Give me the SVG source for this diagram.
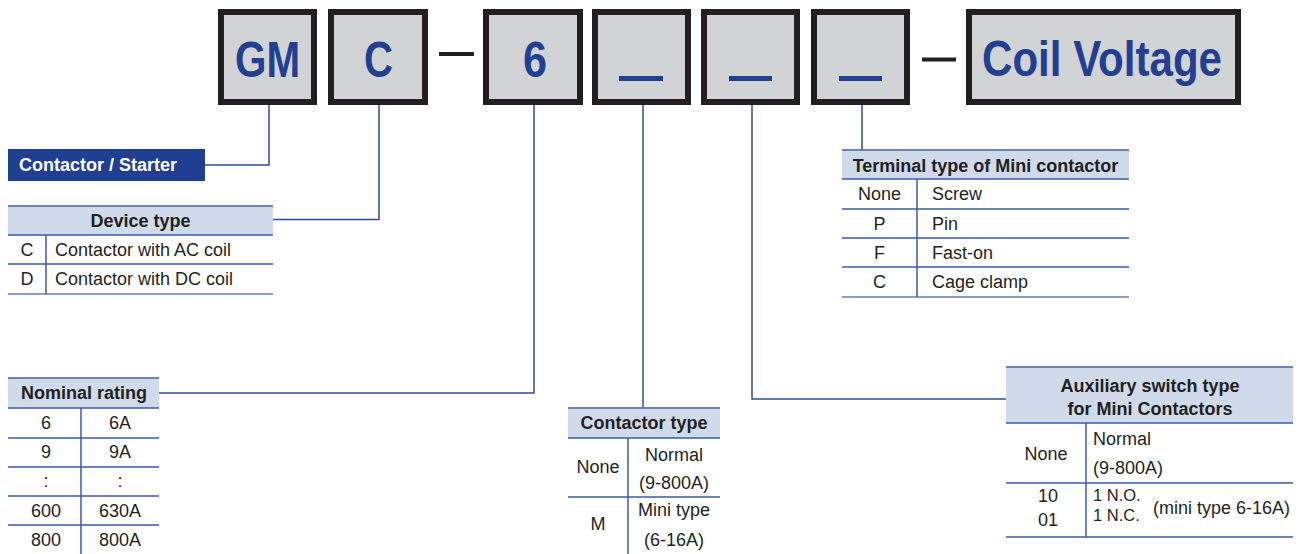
<svg xmlns="http://www.w3.org/2000/svg" width="1300" height="554" viewBox="0 0 1300 554">
<style>
.box{fill:#d1d3d4;stroke:#231f20;stroke-width:6}
.big{font-family:"Liberation Sans",Arial,sans-serif;font-weight:bold;font-size:50px;fill:#233f92}
.bar{fill:#233f92}
.dash{fill:#231f20}
.conn{fill:none;stroke:#2d4b9b;stroke-width:1.5}
.hdr{fill:#cfdbeb}
.top{stroke:#6c82b6;stroke-width:2}
.row{stroke:#3b5ba6;stroke-width:1.5}
.bot{stroke:#8d9dc6;stroke-width:2}
.t{font-family:"Liberation Sans",Arial,sans-serif;font-size:18px;fill:#231f20}
.b{font-weight:bold}
.m{text-anchor:middle}
.w{fill:#ffffff}
</style>
<g id="code">
<g id="box-gm"><rect class="box" x="221" y="12" width="93" height="90"/><text class="big" x="267.5" y="77" text-anchor="middle" textLength="65" lengthAdjust="spacingAndGlyphs">GM</text></g>
<g id="box-c"><rect class="box" x="331" y="12" width="94" height="90"/><text class="big" x="378.5" y="77" text-anchor="middle" textLength="29" lengthAdjust="spacingAndGlyphs">C</text></g>
<g id="dash1"><rect class="dash" x="439" y="52" width="35" height="4"/></g>
<g id="box-6"><rect class="box" x="486" y="12" width="94" height="90"/><text class="big" x="535" y="77" text-anchor="middle" textLength="24" lengthAdjust="spacingAndGlyphs">6</text></g>
<g id="box-u1"><rect class="box" x="595" y="12" width="93" height="90"/><rect class="bar" x="619" y="76" width="44" height="5"/></g>
<g id="box-u2"><rect class="box" x="704" y="12" width="93" height="90"/><rect class="bar" x="729" y="76" width="43" height="5"/></g>
<g id="box-u3"><rect class="box" x="814" y="12" width="93" height="90"/><rect class="bar" x="839" y="76" width="43" height="5"/></g>
<g id="dash2"><rect class="dash" x="922" y="57.5" width="34" height="4"/></g>
<g id="box-coil"><rect class="box" x="969" y="12" width="269" height="90"/><text class="big" x="982" y="76" textLength="240" lengthAdjust="spacingAndGlyphs">Coil Voltage</text></g>
</g>
<g id="connectors">
<path class="conn" d="M269 105V165H205"/>
<path class="conn" d="M379 105V219.5H273"/>
<path class="conn" d="M534 105V393H159"/>
<path class="conn" d="M643 105V408"/>
<path class="conn" d="M752 105V399H1006"/>
<path class="conn" d="M862 105V150"/>
</g>
<g id="contactor-starter">
<rect x="8" y="149" width="197" height="32" fill="#213f92"/>
<text class="t b w" x="19" y="170.5">Contactor / Starter</text>
</g>
<g id="device-type">
<rect class="hdr" x="8" y="206" width="265" height="29"/>
<line class="top" x1="8" y1="206" x2="273" y2="206"/>
<line class="row" x1="8" y1="235" x2="273" y2="235"/>
<line class="row" x1="8" y1="264" x2="273" y2="264"/>
<line class="bot" x1="8" y1="294" x2="273" y2="294"/>
<line class="row" x1="46" y1="235" x2="46" y2="294"/>
<text class="t b m" x="140.5" y="227">Device type</text>
<text class="t m" x="27" y="256">C</text><text class="t" x="55" y="256">Contactor with AC coil</text>
<text class="t m" x="27" y="285">D</text><text class="t" x="55" y="285">Contactor with DC coil</text>
</g>
<g id="nominal-rating">
<rect class="hdr" x="8" y="378" width="151" height="30"/>
<line class="top" x1="8" y1="378" x2="159" y2="378"/>
<line class="row" x1="8" y1="408" x2="159" y2="408"/>
<line class="row" x1="8" y1="438" x2="159" y2="438"/>
<line class="row" x1="8" y1="467" x2="159" y2="467"/>
<line class="row" x1="8" y1="496" x2="159" y2="496"/>
<line class="row" x1="8" y1="525" x2="159" y2="525"/>
<line class="row" x1="81" y1="408" x2="81" y2="554"/>
<text class="t b m" x="84" y="398.5">Nominal rating</text>
<text class="t m" x="46" y="429">6</text><text class="t m" x="120" y="429">6A</text>
<text class="t m" x="46" y="458">9</text><text class="t m" x="120" y="458">9A</text>
<text class="t m" x="46" y="487">:</text><text class="t m" x="120" y="487">:</text>
<text class="t m" x="46" y="517">600</text><text class="t m" x="120" y="517">630A</text>
<text class="t m" x="46" y="546">800</text><text class="t m" x="120" y="546">800A</text>
</g>
<g id="contactor-type">
<rect class="hdr" x="568" y="408" width="152" height="30"/>
<line class="top" x1="568" y1="408" x2="720" y2="408"/>
<line class="row" x1="568" y1="438" x2="720" y2="438"/>
<line class="row" x1="568" y1="497" x2="720" y2="497"/>
<line class="row" x1="628" y1="438" x2="628" y2="554"/>
<text class="t b m" x="644" y="428.5">Contactor type</text>
<text class="t m" x="598" y="473">None</text>
<text class="t m" x="674" y="461">Normal</text>
<text class="t m" x="674" y="489">(9-800A)</text>
<text class="t m" x="598" y="530">M</text>
<text class="t m" x="674" y="516">Mini type</text>
<text class="t m" x="674" y="546">(6-16A)</text>
</g>
<g id="terminal-type">
<rect class="hdr" x="842" y="150" width="287" height="29"/>
<line class="top" x1="842" y1="150" x2="1129" y2="150"/>
<line class="row" x1="842" y1="179" x2="1129" y2="179"/>
<line class="row" x1="842" y1="209" x2="1129" y2="209"/>
<line class="row" x1="842" y1="238" x2="1129" y2="238"/>
<line class="row" x1="842" y1="267" x2="1129" y2="267"/>
<line class="bot" x1="842" y1="297" x2="1129" y2="297"/>
<line class="row" x1="917" y1="179" x2="917" y2="297"/>
<text class="t b m" x="985.5" y="171.5">Terminal type of Mini contactor</text>
<text class="t m" x="879.5" y="200">None</text><text class="t" x="932" y="200">Screw</text>
<text class="t m" x="879.5" y="230">P</text><text class="t" x="932" y="230">Pin</text>
<text class="t m" x="879.5" y="259">F</text><text class="t" x="932" y="259">Fast-on</text>
<text class="t m" x="879.5" y="288">C</text><text class="t" x="932" y="288">Cage clamp</text>
</g>
<g id="auxiliary-switch">
<rect class="hdr" x="1006" y="367" width="287" height="56"/>
<line class="top" x1="1006" y1="367" x2="1293" y2="367"/>
<line class="row" x1="1006" y1="423" x2="1293" y2="423"/>
<line class="row" x1="1006" y1="483" x2="1293" y2="483"/>
<line class="row" x1="1006" y1="537" x2="1293" y2="537"/>
<line class="row" x1="1086" y1="423" x2="1086" y2="537"/>
<text class="t b m" x="1150" y="392">Auxiliary switch type</text>
<text class="t b m" x="1150" y="414.5">for Mini Contactors</text>
<text class="t m" x="1046" y="460">None</text>
<text class="t" x="1093" y="445">Normal</text>
<text class="t" x="1093" y="474">(9-800A)</text>
<text class="t m" x="1048" y="502">10</text>
<text class="t m" x="1048" y="526">01</text>
<text class="t" x="1093" y="501" style="font-size:16.5px">1 N.O.</text>
<text class="t" x="1093" y="521" style="font-size:16.5px">1 N.C.</text>
<text class="t" x="1153" y="514">(mini type 6-16A)</text>
</g>
</svg>
